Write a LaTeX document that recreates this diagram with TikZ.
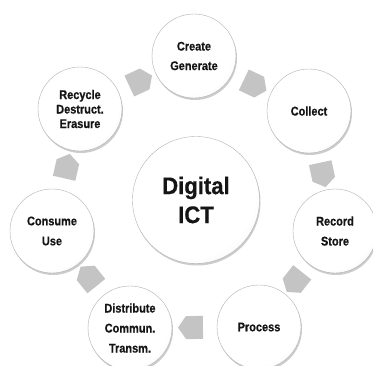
\documentclass[tikz,border=0pt]{standalone}
\usepackage{fontspec}
\setmainfont{Liberation Sans}
\newfontfamily\labfont[FakeStretch=0.87,FakeBold=0.5]{Liberation Sans}
\newfontfamily\bigfont[FakeStretch=0.92,FakeBold=0.4]{Liberation Sans}
\usetikzlibrary{shapes.arrows,shadows}
\definecolor{arrowgray}{HTML}{C4C4C4}
\definecolor{txt}{HTML}{151515}
\pgfdeclareradialshading{button}{\pgfpoint{-6bp}{7bp}}{%
  color(0bp)=(white); color(26bp)=(white); color(36bp)=(black!6);
  color(43bp)=(black!18); color(48bp)=(black!34); color(50bp)=(black!45)}
\begin{document}
\begin{tikzpicture}[x=1pt,y=-1pt,
  ball/.style={circle, minimum size=#1, inner sep=0pt, draw=black!30, line width=0.4pt,
    shading=button, text=txt, align=center,
    drop shadow={shadow xshift=1pt, shadow yshift=-2pt, opacity=0.2, fill=black}},
  small/.style={ball=84pt, font=\labfont\bfseries\fontsize{12.6}{#1}\selectfont},
  arr/.style={single arrow, single arrow head extend=0pt, single arrow tip angle=110,
    minimum height=25pt, minimum width=23pt, inner sep=0pt, fill=arrowgray, draw=none,
    sloped, allow upside down}]
\clip (0,0) rectangle (373,365);
\fill[white] (0,0) rectangle (373,365);
\node[ball=127pt, font=\bigfont\bfseries\fontsize{24}{29}\selectfont] (ict) at (196,200) {Digital\\ICT};
\node[small=19.5] (cre) at (194,56) {Create\\Generate};
\node[small=14] (col) at (309,111) {Collect};
\node[small=20] (rso) at (335,231) {Record\\Store};
\node[small=14] (pro) at (259,327) {Process};
\node[small=20] (dis) at (130,328) {Distribute\\Commun.\\Transm.};
\node[small=20] (con) at (52,231) {Consume\\Use};
\node[small=14.5] (rcy) at (80,109) {Recycle\\Destruct.\\Erasure};
\path (rcy) -- node[arr]{} (cre);
\path (cre) -- node[arr]{} (col);
\path (col) -- node[arr]{} (rso);
\path (rso) -- node[arr]{} (pro);
\path (pro) -- node[arr]{} (dis);
\path (dis) -- node[arr]{} (con);
\path (con) -- node[arr]{} (rcy);
\end{tikzpicture}
\end{document}
